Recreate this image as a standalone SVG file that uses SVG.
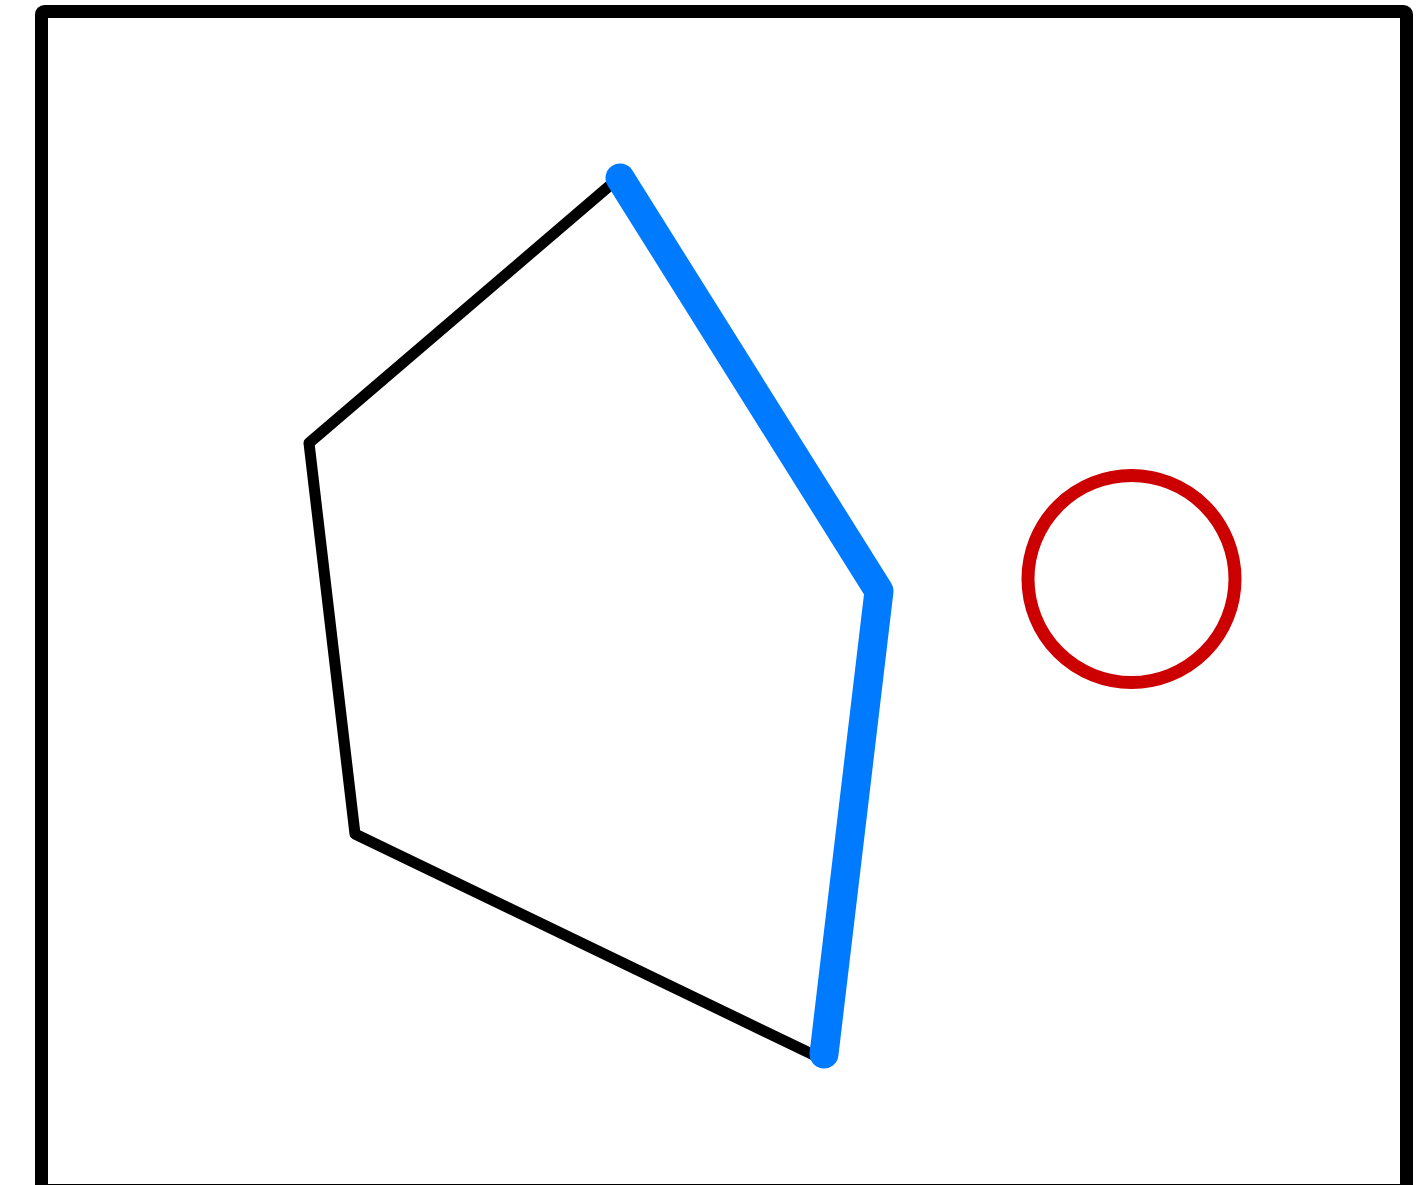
<svg xmlns="http://www.w3.org/2000/svg" width="1426" height="1185" viewBox="0 0 1426 1185">
<style>
.frame{fill:none;stroke:#000;stroke-width:13;stroke-linejoin:round}
.poly{fill:none;stroke:#000;stroke-width:11;stroke-linejoin:round}
.edge{fill:none;stroke:#007aff;stroke-width:29;stroke-linecap:round;stroke-linejoin:round}
.ring{fill:none;stroke:#cc0000;stroke-width:13}
</style>
<rect width="1426" height="1185" fill="#fff"/>
<rect class="frame" x="41.5" y="11.5" width="1365" height="1179" rx="3"/>
<g id="pentagon">
<polyline class="poly" points="614,182 309,443 355,834 820,1058"/>
</g>
<g id="connectors">
<polyline class="edge" points="620,178 879,591 824,1054"/>
</g>
<g id="circle">
<circle class="ring" cx="1131.5" cy="579" r="103.5"/>
</g>
</svg>
